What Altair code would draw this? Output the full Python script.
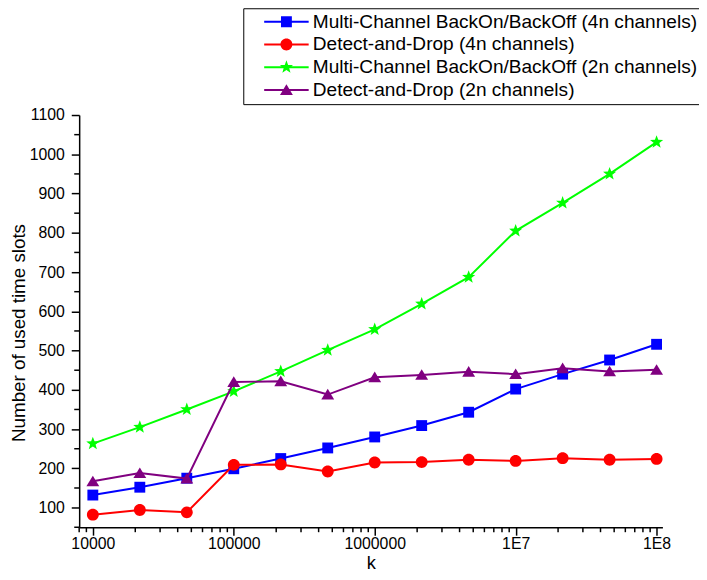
import math
import altair as alt
import pandas as pd

# ---------------- data ----------------
k_values = [10000, 21544, 46416, 100000, 215443, 464159, 1000000,
            2154435, 4641589, 10000000, 21544347, 46415888, 100000000]

series_names = [
    "Multi-Channel BackOn/BackOff (4n channels)",
    "Detect-and-Drop (4n channels)",
    "Multi-Channel BackOn/BackOff (2n channels)",
    "Detect-and-Drop (2n channels)",
]
mc_4n = [132, 152, 175, 199, 225, 252, 280, 309, 343, 402, 440, 476, 516]
dd_4n = [82, 94, 88, 209, 210, 192, 215, 216, 222, 219, 226, 222, 224]
mc_2n = [263, 305, 350, 396, 447, 501, 554, 619, 687, 805, 876, 950, 1031]
dd_2n = [167, 188, 174, 420, 422, 388, 432, 438, 446, 440, 455, 447, 451]
series_values = [mc_4n, dd_4n, mc_2n, dd_2n]

colors = ["#0000ff", "#ff0000", "#00ff00", "#800080"]

x_major = [10000, 100000, 1000000, 10000000, 100000000]
x_minor = [8000, 9000,
           20000, 30000, 40000, 50000, 60000, 70000, 80000, 90000,
           200000, 300000, 400000, 500000, 600000, 700000, 800000, 900000,
           2000000, 3000000, 4000000, 5000000, 6000000, 7000000, 8000000, 9000000,
           20000000, 30000000, 40000000, 50000000, 60000000, 70000000, 80000000, 90000000]
y_major = [100, 200, 300, 400, 500, 600, 700, 800, 900, 1000, 1100]
y_minor = [50, 150, 250, 350, 450, 550, 650, 750, 850, 950, 1050]

rows = []
for name, vals in zip(series_names, series_values):
    for k, v in zip(k_values, vals):
        rows.append({"k": k, "slots": v, "series": name})
df = pd.DataFrame(rows)

# ---------------- marker shapes (unit paths) ----------------
line_seg = "M-4.5,-0.2H4.5V0.2H-4.5Z"
sq_path = "M-1.1,-1.1H1.1V1.1H-1.1Z"
circ_path = "M-1.2,0A1.2,1.2,0,1,1,1.2,0A1.2,1.2,0,1,1,-1.2,0Z"
tri_path = "M0,-1.15L1.3,1.0H-1.3Z"
pts = []
for i in range(10):
    r = 1.4 if i % 2 == 0 else 0.58
    a = math.radians(-90 + 36 * i)
    pts.append(f"{r*math.cos(a):.3f},{r*math.sin(a):.3f}")
star_path = "M" + "L".join(pts) + "Z"

plot_shapes = [sq_path, circ_path, star_path, tri_path]
legend_shapes = [line_seg + s for s in plot_shapes]

FONT = "Liberation Sans"
W, H = 590, 417

x_scale = alt.Scale(type="log", domain=[8000, 110000000], nice=False)
y_scale = alt.Scale(domain=[50, 1100], nice=False, zero=False)

x_axis = alt.Axis(
    title="k", values=x_major, grid=False,
    labelExpr="datum.value >= 10000000 ? '1E' + round(log(datum.value)/LN10) : format(datum.value, 'd')",
    labelFont=FONT, labelFontSize=16, labelColor="black",
    labelBaseline="alphabetic", labelPadding=13, labelFlush=False, labelOverlap=False,
    tickSize=8, tickColor="black", tickWidth=1.5,
    domainColor="black", domainWidth=1.5,
    titleFont=FONT, titleFontSize=18.5, titleFontWeight="normal", titleColor="black",
    titleBaseline="alphabetic", titleY=42, titleX=W / 2,
)
y_axis = alt.Axis(
    title="Number of used time slots", values=y_major, grid=False, format="d",
    labelFont=FONT, labelFontSize=16, labelColor="black", labelPadding=7,
    tickSize=8, tickColor="black", tickWidth=1.5,
    domainColor="black", domainWidth=1.5,
    titleFont=FONT, titleFontSize=19, titleFontWeight="normal", titleColor="black",
    titleAngle=270, titleBaseline="middle", titleAlign="center",
    titleX=-61, titleY=220,
)

X = alt.X("k:Q", scale=x_scale, axis=x_axis)
Y = alt.Y("slots:Q", scale=y_scale, axis=y_axis)

layers = []
for name, col, shp in zip(series_names, colors, plot_shapes):
    sub = alt.Chart(df).transform_filter(alt.datum.series == name)
    layers.append(sub.mark_line(color=col, strokeWidth=2).encode(x=X, y=Y))
    layers.append(sub.mark_point(shape=shp, size=100, filled=True, color=col,
                                 opacity=1, strokeWidth=0).encode(x=X, y=Y))

# legend layer (no visible marks, only provides the legend)
legend = alt.Legend(
    title=None, orient="none", legendX=166, legendY=-108,
    labelFont=FONT, labelFontSize=19.3, labelColor="black", labelLimit=0,
    symbolSize=100, symbolStrokeWidth=0, symbolOffset=30, labelOffset=17,
    padding=4, rowPadding=3, strokeColor="black",
)
layers.append(
    alt.Chart(df).transform_filter("false").mark_point(filled=True, opacity=1).encode(
        x=X, y=Y,
        color=alt.Color("series:N", scale=alt.Scale(domain=series_names, range=colors), legend=legend),
        shape=alt.Shape("series:N", scale=alt.Scale(domain=series_names, range=legend_shapes), legend=legend),
    )
)

# minor ticks (share the same scales and axes)
xm = pd.DataFrame({"k": x_minor})
ym = pd.DataFrame({"slots": y_minor})
layers.append(alt.Chart(xm).mark_rule(color="black", strokeWidth=1.5).encode(
    x=X, y=alt.value(H), y2=alt.value(H + 5)))
layers.append(alt.Chart(ym).mark_rule(color="black", strokeWidth=1.5).encode(
    y=Y, x=alt.value(0), x2=alt.value(-5)))

chart = alt.layer(*layers).properties(
    width=W, height=H,
    autosize=alt.AutoSizeParams(type="none"),
    padding={"left": 72, "top": 105, "right": 37, "bottom": 42},
).configure_view(stroke=None)

chart.save("out.html", embed_options={"renderer": "svg", "actions": False})
